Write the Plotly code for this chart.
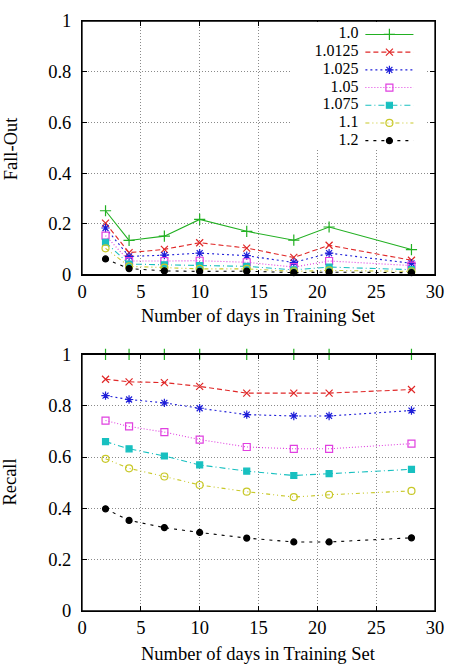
import plotly.graph_objects as go

days = [2, 4, 7, 10, 14, 18, 21, 28]
labels = ["1.0", "1.0125", "1.025", "1.05", "1.075", "1.1", "1.2"]

fallout = {
    "1.0":    [0.252, 0.135, 0.152, 0.218, 0.171, 0.136, 0.188, 0.099],
    "1.0125": [0.203, 0.087, 0.100, 0.126, 0.105, 0.068, 0.116, 0.057],
    "1.025":  [0.184, 0.072, 0.077, 0.085, 0.075, 0.048, 0.085, 0.045],
    "1.05":   [0.154, 0.054, 0.054, 0.055, 0.049, 0.030, 0.054, 0.036],
    "1.075":  [0.128, 0.042, 0.039, 0.036, 0.033, 0.019, 0.030, 0.020],
    "1.1":    [0.104, 0.033, 0.028, 0.023, 0.023, 0.013, 0.017, 0.013],
    "1.2":    [0.062, 0.024, 0.015, 0.013, 0.014, 0.008, 0.010, 0.008],
}
recall = {
    "1.0":    [1.0, 1.0, 1.0, 1.0, 1.0, 1.0, 1.0, 1.0],
    "1.0125": [0.903, 0.893, 0.890, 0.875, 0.849, 0.849, 0.849, 0.863],
    "1.025":  [0.839, 0.824, 0.811, 0.790, 0.765, 0.760, 0.760, 0.781],
    "1.05":   [0.742, 0.719, 0.697, 0.668, 0.639, 0.632, 0.632, 0.652],
    "1.075":  [0.660, 0.632, 0.604, 0.569, 0.545, 0.528, 0.535, 0.552],
    "1.1":    [0.593, 0.556, 0.524, 0.491, 0.465, 0.444, 0.453, 0.468],
    "1.2":    [0.398, 0.353, 0.325, 0.306, 0.284, 0.269, 0.269, 0.285],
}

colors = ["#22b022", "#e02828", "#1e1ed8", "#e040e0", "#18c0c0", "#c8c828", "#000000"]
dashes = ["solid", "5px,3px", "2px,3px", "1px,2px", "6px,3px,1px,3px",
          "4px,3px,1px,3px,1px,3px", "3px,5px"]
symbols = ["cross-thin-open", "x-thin-open", "asterisk-open", "square-open",
           "square", "circle-open", "circle"]
sizes = [8, 7, 7, 7, 6, 7, 6]

FONT = "Liberation Serif"

fig = go.Figure()

def add_series(xa, ya, data):
    for i, lab in enumerate(labels):
        fig.add_trace(go.Scatter(
            x=days, y=data[lab], xaxis=xa, yaxis=ya, mode="lines+markers",
            name=lab, showlegend=False, cliponaxis=False,
            line=dict(color=colors[i], dash=dashes[i], width=1.1),
            marker=dict(symbol=symbols[i], size=sizes[i], color=colors[i],
                        line=dict(color=colors[i], width=1.2)),
        ))

add_series("x", "y", fallout)
add_series("x2", "y2", recall)

# legend inset (pixel-unit axes)
row0 = 24.7
rows = [row0 + 18 * i for i in range(len(labels))]
for i, lab in enumerate(labels):
    yy = rows[i]
    fig.add_trace(go.Scatter(
        x=[371, 420], y=[yy, yy], xaxis="x3", yaxis="y3", mode="lines",
        showlegend=False, hoverinfo="skip",
        line=dict(color=colors[i], dash=dashes[i], width=1.1)))
    fig.add_trace(go.Scatter(
        x=[395.5], y=[yy], xaxis="x3", yaxis="y3", mode="markers",
        showlegend=False, hoverinfo="skip", cliponaxis=False,
        marker=dict(symbol=symbols[i], size=sizes[i], color=colors[i],
                    line=dict(color=colors[i], width=1.2))))
fig.add_trace(go.Scatter(
    x=[364] * len(labels), y=rows, xaxis="x3", yaxis="y3", mode="text",
    text=labels, textposition="middle left", showlegend=False,
    hoverinfo="skip", cliponaxis=False,
    textfont=dict(family=FONT, size=16, color="black")))

tickfont = dict(family=FONT, size=18.5, color="black")
gridc = "#8a8a8a"
xcommon = dict(range=[0, 30], tickvals=[0, 5, 10, 15, 20, 25, 30], ticks="inside",
               ticklen=5, tickcolor="black", showline=True, linecolor="black",
               linewidth=1, mirror="allticks", showgrid=True, gridcolor=gridc,
               griddash="1px,2px", gridwidth=1, zeroline=False, tickfont=tickfont,
               ticklabelstandoff=0)
ycommon = dict(range=[0, 1], tickvals=[0, 0.2, 0.4, 0.6, 0.8, 1],
               ticktext=["0", "0.2", "0.4", "0.6", "0.8", "1"], ticks="inside",
               ticklen=5, tickcolor="black", showline=True, linecolor="black",
               linewidth=1, mirror="allticks", showgrid=True, gridcolor=gridc,
               griddash="1px,2px", gridwidth=1, zeroline=False, tickfont=tickfont,
               ticklabelstandoff=6)

H = 665
L, R, T, B = 82, 13, 11, 54
ph = H - T - B
def py(p):
    return (H - B - p) / ph
def px(p):
    return (p - L) / (455 - L - R)

fig.update_layout(
    width=455, height=665,
    margin=dict(l=L, r=R, t=T, b=B),
    paper_bgcolor="white", plot_bgcolor="white",
    showlegend=False,
    xaxis=dict(domain=[0, 1], anchor="y", **xcommon),
    yaxis=dict(domain=[py(269), 1.0], anchor="x", **ycommon),
    xaxis2=dict(domain=[0, 1], anchor="y2", **xcommon),
    yaxis2=dict(domain=[0, py(350)], anchor="x2", **ycommon),
    xaxis3=dict(domain=[px(295), px(432)], anchor="y3", range=[295, 432],
                visible=False, showgrid=False, zeroline=False, fixedrange=True),
    yaxis3=dict(domain=[py(142), py(12)], anchor="x3", range=[142, 12],
                visible=False, showgrid=False, zeroline=False, fixedrange=True),
)

# frame borders above traces
for xr, yr in [("x domain", "y domain"), ("x2 domain", "y2 domain")]:
    fig.add_shape(type="rect", xref=xr, yref=yr, x0=0, x1=1, y0=0, y1=1,
                  line=dict(color="black", width=1.3), layer="above")

titlefont = dict(family=FONT, size=18.5, color="black")
fig.add_annotation(x=px(9), y=py(140), xref="paper", yref="paper",
                   text="Fall-Out", textangle=-90, showarrow=False,
                   xanchor="center", yanchor="middle", font=titlefont)
fig.add_annotation(x=px(9), y=py(480), xref="paper", yref="paper",
                   text="Recall", textangle=-90, showarrow=False,
                   xanchor="center", yanchor="middle", font=titlefont)
fig.add_annotation(x=0.5, y=py(311), xref="paper", yref="paper",
                   text="Number of days in Training Set", showarrow=False,
                   xanchor="center", yanchor="middle", font=titlefont)
fig.add_annotation(x=0.5, y=py(655), xref="paper", yref="paper",
                   text="Number of days in Training Set", showarrow=False,
                   xanchor="center", yanchor="middle", font=titlefont)

fig.write_html("out.html")
